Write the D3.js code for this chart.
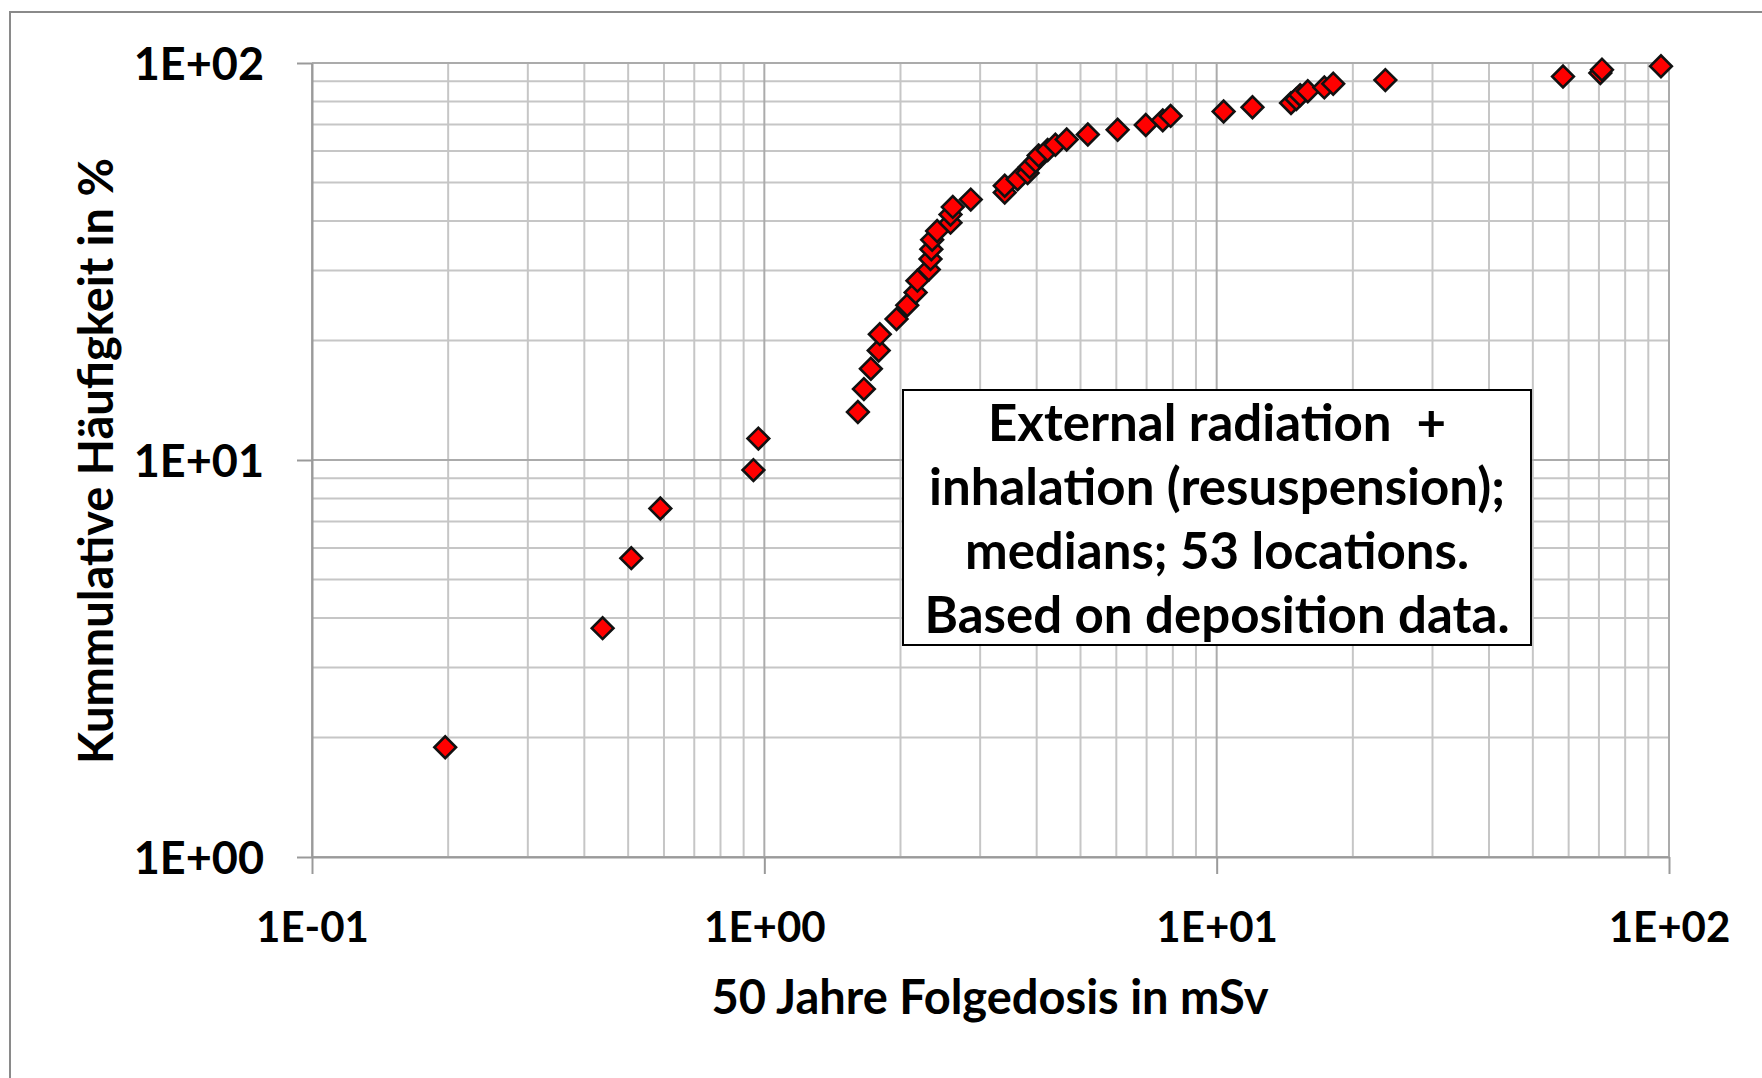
<!DOCTYPE html>
<html>
<head>
<meta charset="utf-8">
<script src="https://cdn.jsdelivr.net/npm/d3@7"></script>
<style>
  html, body { margin: 0; padding: 0; background: #ffffff; }
  svg { display: block; }
  text { font-family: Lato, "Open Sans", sans-serif; font-weight: 700; fill: #000; }
</style>
</head>
<body>
<svg id="chart" width="1762" height="1078"></svg>
<script>
// ---- Data ----
const doseMSv = [0.197, 0.439, 0.508, 0.589, 0.946, 0.97,
  1.61, 1.66, 1.72, 1.79, 1.80, 1.96, 2.07, 2.16, 2.18, 2.31, 2.33, 2.34, 2.35, 2.41,
  2.58, 2.58, 2.61, 2.86, 3.40, 3.40, 3.63, 3.82, 3.86, 3.98, 4.04, 4.23, 4.40, 4.66,
  5.19, 6.04, 6.97, 7.6, 7.91, 10.36, 12.0, 14.6, 15.0, 15.3, 15.9, 17.3, 18.1, 23.6,
  58.3, 70.5, 71.1, 96];
const cumFreqPct = [1.89, 3.77, 5.66, 7.55, 9.43, 11.32,
  13.21, 15.09, 16.98, 18.87, 20.75, 22.64, 24.53, 26.42, 28.30, 30.19, 32.08, 33.96, 35.85, 37.74,
  39.62, 41.51, 43.40, 45.28, 47.17, 49.06, 50.94, 52.83, 54.72, 56.60, 58.49, 60.38, 62.26, 64.15,
  66.04, 67.92, 69.81, 71.70, 73.58, 75.47, 77.36, 79.25, 81.13, 83.02, 84.91, 86.79, 88.68, 90.57,
  92.45, 94.34, 96.23, 98.11];
const xTickValues = [0.1, 1, 10, 100];
const xTickLabels = ["1E-01", "1E+00", "1E+01", "1E+02"];
const yTickValues = [1, 10, 100];
const yTickLabels = ["1E+00", "1E+01", "1E+02"];
const xTitle = "50 Jahre Folgedosis in mSv";
const yTitle = "Kummulative Häufigkeit in %";
const noteLines = ["External radiation\u00a0 +", "inhalation (resuspension);", "medians; 53 locations.", "Based on deposition data."];

// ---- Layout ----
const W = 1762, H = 1078;
const plot = { left: 312, right: 1669, top: 63, bottom: 857 };

const svg = d3.select("#chart");
svg.append("rect").attr("x", 0).attr("y", 0).attr("width", W).attr("height", H).attr("fill", "#fff");
// outer chart border (continues beyond the visible frame)
svg.append("rect").attr("x", 10).attr("y", 12).attr("width", W + 40).attr("height", H + 40)
  .attr("fill", "none").attr("stroke", "#8a8a8a").attr("stroke-width", 2);

const x = d3.scaleLog().domain([0.1, 100]).range([plot.left, plot.right]);
const y = d3.scaleLog().domain([1, 100]).range([plot.bottom, plot.top]);

const g = svg.append("g");

// minor gridlines
const xMinor = x.ticks().filter(v => !xTickValues.some(t => Math.abs(t - v) < 1e-9));
const yMinor = y.ticks().filter(v => !yTickValues.some(t => Math.abs(t - v) < 1e-9));
g.selectAll(".vminor").data(xMinor).join("line")
  .attr("x1", d => x(d)).attr("x2", d => x(d)).attr("y1", plot.top).attr("y2", plot.bottom)
  .attr("stroke", "#c6c6c6").attr("stroke-width", 2);
g.selectAll(".hminor").data(yMinor).join("line")
  .attr("y1", d => y(d)).attr("y2", d => y(d)).attr("x1", plot.left).attr("x2", plot.right)
  .attr("stroke", "#c6c6c6").attr("stroke-width", 2);
// major gridlines
g.selectAll(".vmajor").data(xTickValues).join("line")
  .attr("x1", d => x(d)).attr("x2", d => x(d)).attr("y1", plot.top).attr("y2", plot.bottom)
  .attr("stroke", "#ababab").attr("stroke-width", 2);
g.selectAll(".hmajor").data(yTickValues).join("line")
  .attr("y1", d => y(d)).attr("y2", d => y(d)).attr("x1", plot.left).attr("x2", plot.right)
  .attr("stroke", "#ababab").attr("stroke-width", 2);

// axes
const xAxis = d3.axisBottom(x).tickValues(xTickValues).tickFormat((d, i) => xTickLabels[i])
  .tickSizeInner(17).tickSizeOuter(0).tickPadding(38);
const yAxis = d3.axisLeft(y).tickValues(yTickValues).tickFormat((d, i) => yTickLabels[i])
  .tickSizeInner(15).tickSizeOuter(0).tickPadding(33);
const gx = svg.append("g").attr("transform", `translate(0,${plot.bottom})`).call(xAxis);
const gy = svg.append("g").attr("transform", `translate(${plot.left},0)`).call(yAxis);
[gx, gy].forEach(a => {
  a.select(".domain").attr("stroke", "#9a9a9a").attr("stroke-width", 2);
  a.selectAll(".tick line").attr("stroke", "#9a9a9a").attr("stroke-width", 2);
  a.selectAll("text").attr("font-family", "Lato").attr("font-weight", 700).attr("fill", "#000");
});
gx.selectAll("text").attr("font-size", 42);
gy.selectAll("text").attr("font-size", 45).attr("dy", "0.36em");

// axis titles
svg.append("text").attr("x", 990).attr("y", 1014).attr("text-anchor", "middle")
  .attr("font-size", 47).text(xTitle);
svg.append("text").attr("transform", "translate(113,461) rotate(-90)").attr("text-anchor", "middle")
  .attr("font-size", 47).text(yTitle);

// data points (diamonds)
const pts = doseMSv.map((d, i) => ({ x: d, y: cumFreqPct[i] }));
svg.append("g").selectAll("path").data(pts).join("path")
  .attr("d", d3.symbol(d3.symbolSquare, 235))
  .attr("transform", d => `translate(${x(d.x)},${y(d.y)}) rotate(45)`)
  .attr("fill", "#ff0000").attr("stroke", "#111").attr("stroke-width", 2.6);

// annotation box
const box = { x0: 903, y0: 390, x1: 1531, y1: 645 };
svg.append("rect").attr("x", box.x0).attr("y", box.y0).attr("width", box.x1 - box.x0).attr("height", box.y1 - box.y0)
  .attr("fill", "#fff").attr("stroke", "#000").attr("stroke-width", 2);
const noteG = svg.append("g");
noteLines.forEach((t, i) => {
  noteG.append("text").attr("x", (box.x0 + box.x1) / 2).attr("y", 441 + i * 64)
    .attr("text-anchor", "middle").attr("font-size", 51).text(t);
});
</script>
</body>
</html>
